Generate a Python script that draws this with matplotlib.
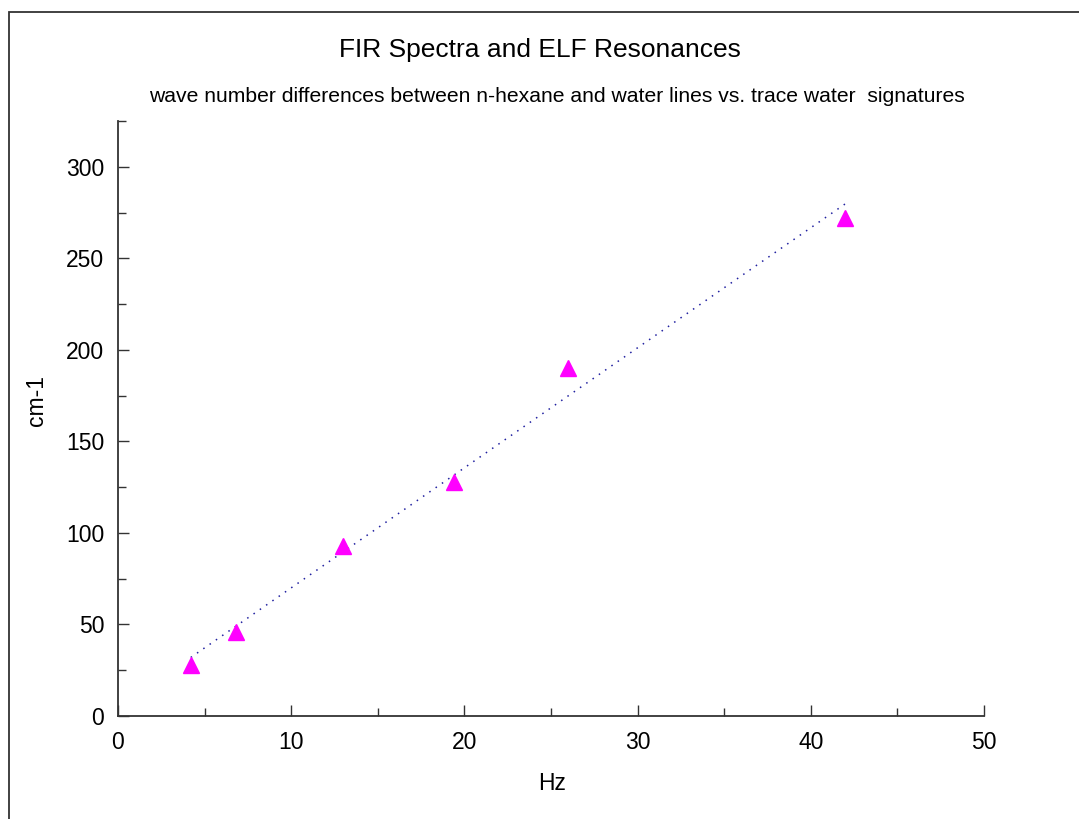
"""
fir_elf.py
FIR spectra vs ELF resonances, wave number differences with a linear trend line
"""
import numpy as np
import matplotlib
matplotlib.use("Agg")
import matplotlib.pyplot as plt
from matplotlib.patches import Rectangle
from matplotlib.ticker import MultipleLocator

# data
hz = [4.2, 6.8, 13.0, 19.4, 26.0, 42.0]
cm1 = [28, 46, 93, 128, 190, 272]

title = "FIR Spectra and ELF Resonances"
subtitle = "wave number differences between n-hexane and water lines vs. trace water  signatures"

plt.rcParams['font.family'] = ['Liberation Sans', 'DejaVu Sans']

fig = plt.figure(figsize=(10.79, 8.19), dpi=100)
ax = fig.add_axes([118/1079, 1 - 716/819, (984 - 118)/1079, (716 - 121)/819])

# trend line from a least squares fit
slope, icpt = np.polyfit(hz, cm1, 1)
xfit = np.array([min(hz), max(hz)])
ax.plot(xfit, slope*xfit + icpt, linestyle=(0, (1, 4)), color='#2020a0', lw=1.1)

ax.plot(hz, cm1, linestyle='none', marker='^', ms=12, color='#ff00ff',
        markeredgecolor='#ff00ff', clip_on=False)

ax.set_xlim(0, 50)
ax.set_ylim(0, 325)
ax.xaxis.set_major_locator(MultipleLocator(10))
ax.xaxis.set_minor_locator(MultipleLocator(5))
ax.yaxis.set_major_locator(MultipleLocator(50))
ax.yaxis.set_minor_locator(MultipleLocator(25))
ax.tick_params(which='both', direction='in', width=1, color='#333333',
               labelsize=16.5)
ax.tick_params(axis='y', pad=10)
ax.tick_params(axis='x', pad=11)
ax.tick_params(which='major', length=8)
ax.tick_params(which='minor', length=6)
ax.spines['top'].set_visible(False)
ax.spines['right'].set_visible(False)
for s in ('left', 'bottom'):
    ax.spines[s].set_linewidth(1.3)
    ax.spines[s].set_color('#333333')

fig.text(552/1079, 1 - 783/819, "Hz", ha='center', va='center', fontsize=16.5)
fig.text(37/1079, 1 - 400/819, "cm-1", ha='center', va='center',
         rotation=90, fontsize=16.5)
fig.text(540/1079, 1 - 50/819, title, ha='center', va='center', fontsize=19)
fig.text(557/1079, 1 - 96/819, subtitle, ha='center', va='center', fontsize=15.2)

# outer frame, runs off the right and bottom edges
fig.patches.append(Rectangle((9/1079, -0.05), 1.1, 1 - 12/819 + 0.05,
                             transform=fig.transFigure, fill=False,
                             edgecolor='#333333', lw=1.3))

fig.savefig("out.png", dpi=100)
